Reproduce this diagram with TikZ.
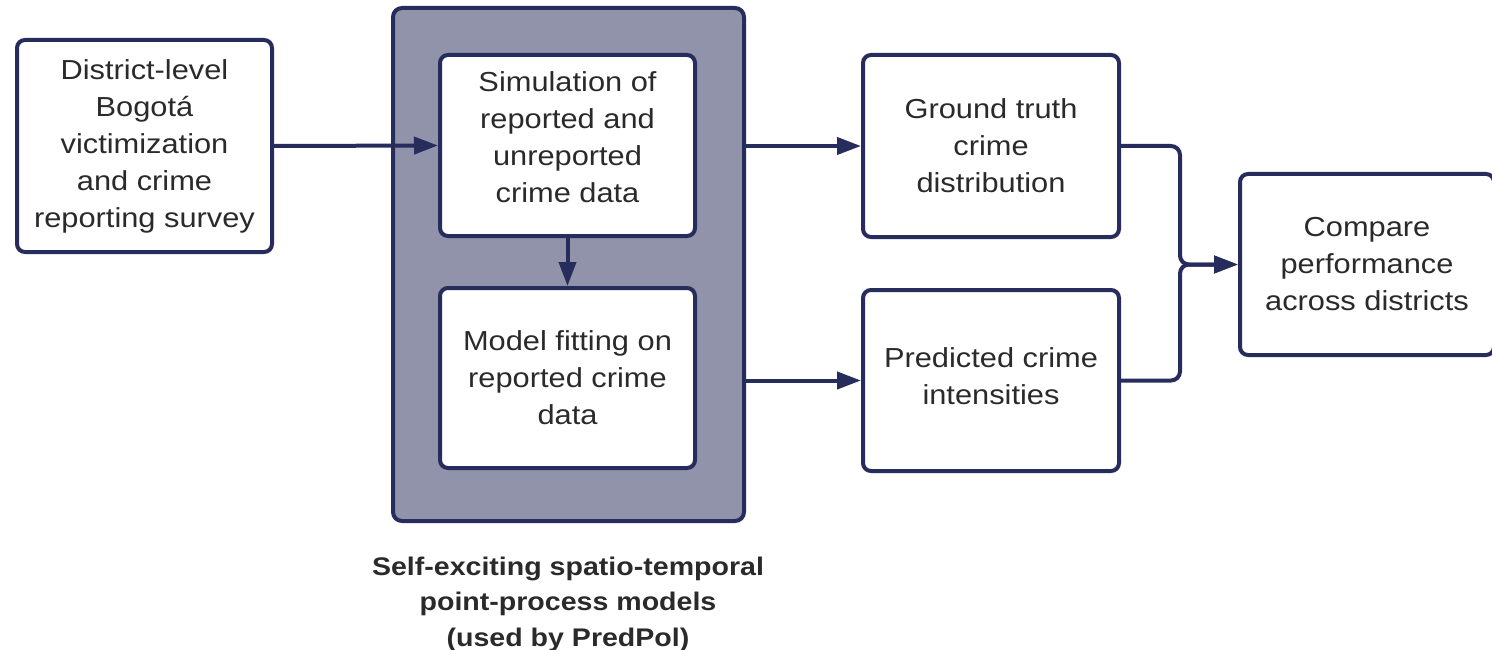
\documentclass[tikz,border=0pt]{standalone}
\usepackage{fontspec}
\setmainfont{Liberation Sans}[FakeStretch=1.12]
\usetikzlibrary{arrows.meta}
\definecolor{navy}{HTML}{262C5C}
\definecolor{panelgray}{HTML}{9093A9}
\definecolor{inktext}{HTML}{2A2A2A}
\begin{document}
\begin{tikzpicture}[x=1pt,y=-1pt,
  box/.style={draw=navy, line width=4pt, rounded corners=8pt, fill=white,
    inner sep=0pt, align=center, text=inktext,
    font=\fontsize{27.5}{37}\selectfont},
  boxtext/.style={inner sep=0pt, align=center, text=inktext,
    font=\fontsize{27.5}{37}\selectfont},
  panel/.style={draw=navy, line width=4pt, rounded corners=9pt, fill=panelgray,
    inner sep=0pt},
  link/.style={draw=navy, line width=4pt, rounded corners=9pt,
    -{Triangle[length=24pt,width=17pt]}},
  caption/.style={align=center, text=inktext, inner sep=0pt,
    font=\fontsize{25.5}{35.5}\selectfont\bfseries}]
\useasboundingbox (0,0) rectangle (1492,650);

% model panel with its two stages
\node[panel, minimum width=351pt, minimum height=513pt] (pp) at (568.5,264.5) {};
\node[box, minimum width=255pt, minimum height=181pt] (sim) at (567.5,145.5) {};
\node[boxtext] (simtext) at ([yshift=8pt]sim.center)
  {Simulation of\\reported and\\unreported\\crime data};
\node[box, minimum width=255pt, minimum height=180pt] (fit) at (567.5,378)
  {Model fitting on\\reported crime\\data};
\node[caption] (cap) at (568,604) {Self-exciting spatio-temporal\\point-process models\\(used by PredPol)};

% input survey
\node[box, minimum width=255pt, minimum height=212pt] (survey) at (144.5,146)
  {District-level\\Bogotá\\victimization\\and crime\\reporting survey};

% outputs
\node[box, minimum width=256pt, minimum height=182pt] (truth) at (991,146)
  {Ground truth\\crime\\distribution};
\node[box, minimum width=256pt, minimum height=181pt] (pred) at (991,380.5) {};
\node[boxtext] (predtext) at ([yshift=4pt]pred.center)
  {Predicted crime\\intensities};
\node[box, minimum width=254pt, minimum height=181pt] (cmp) at (1367,264.5)
  {Compare\\performance\\across districts};

% connectors
\draw[link] (survey.east) -- (sim.west);
\draw[link] (sim.south) -- (fit.north);
\draw[link] (pp.east |- truth.west) -- (truth.west);
\draw[link] (pp.east |- pred.west) -- (pred.west);
\coordinate (join) at (1180,264.5);
\draw[link] (truth.east) -| (join) -- (cmp.west);
\draw[link] (pred.east) -| (join) -- (cmp.west);
\end{tikzpicture}
\end{document}
